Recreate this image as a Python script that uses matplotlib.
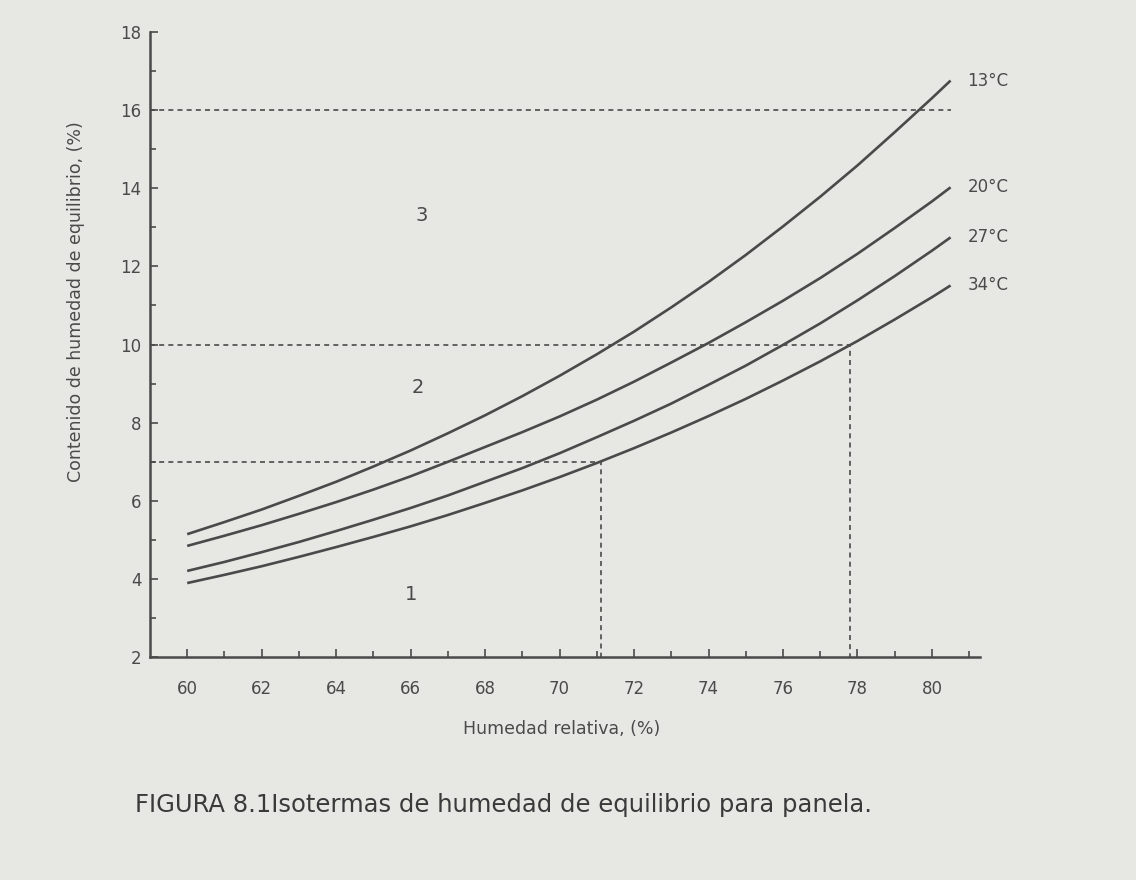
#!/usr/bin/env python3
# -*- coding: utf-8 -*-
"""Isotermas de humedad de equilibrio para panela (figura 8.1)."""
import matplotlib
matplotlib.use("Agg")
import matplotlib.pyplot as plt

# humedad relativa (%) y contenido de humedad de equilibrio (%) por isoterma
hr = [60, 61, 62, 63, 64, 65, 66, 67, 68, 69, 70,
      71, 72, 73, 74, 75, 76, 77, 78, 79, 80, 80.5]
h_13 = [5.15, 5.46, 5.78, 6.13, 6.49, 6.88, 7.29, 7.73, 8.19, 8.68, 9.20,
        9.75, 10.33, 10.95, 11.60, 12.29, 13.02, 13.78, 14.58, 15.43, 16.3, 16.75]
h_20 = [4.85, 5.11, 5.38, 5.67, 5.97, 6.29, 6.63, 7.0, 7.38, 7.76, 8.16,
        8.59, 9.05, 9.54, 10.04, 10.57, 11.12, 11.7, 12.32, 12.98, 13.66, 14.02]
h_27 = [4.21, 4.44, 4.69, 4.95, 5.23, 5.52, 5.82, 6.14, 6.49, 6.84, 7.22,
        7.63, 8.05, 8.49, 8.97, 9.46, 9.99, 10.54, 11.13, 11.75, 12.40, 12.74]
h_34 = [3.9, 4.11, 4.33, 4.57, 4.82, 5.08, 5.35, 5.64, 5.95, 6.27, 6.61,
        6.97, 7.35, 7.75, 8.17, 8.61, 9.08, 9.57, 10.09, 10.64, 11.21, 11.51]
series = [("13°C", h_13), ("20°C", h_20), ("27°C", h_27), ("34°C", h_34)]

# limites de zona (lineas punteadas)
lim_16, hr_16 = 16, 80.5
lim_10, hr_10 = 10, 77.8
lim_7, hr_7 = 7, 71.1
zonas = [("3", 66.3, 13.3), ("2", 66.2, 8.9), ("1", 66.0, 3.6)]

ink = "#4a4a4a"
paper = "#e7e7e4"
plt.rcParams["font.family"] = ["DejaVu Sans"]

fig = plt.figure(figsize=(11.36, 8.8), dpi=100, facecolor=paper)
ax = fig.add_axes([0.132, 0.253, 0.731, 0.711])
ax.set_facecolor(paper)

for name, vals in series:
    ax.plot(hr, vals, color=ink, lw=1.9, solid_capstyle="butt")
    ax.text(hr[-1] + 0.45, vals[-1], name, color=ink, fontsize=12,
            va="center", ha="left", clip_on=False)

dash = dict(color=ink, lw=1.2, ls=(0, (3, 2.5)))
ax.plot([59, hr_16], [lim_16, lim_16], **dash)
ax.plot([59, hr_10, hr_10], [lim_10, lim_10, 2], **dash)
ax.plot([59, hr_7, hr_7], [lim_7, lim_7, 2], **dash)

for z, x, y in zonas:
    ax.text(x, y, z, color=ink, fontsize=14, ha="center", va="center")

ax.set_xlim(59, 81.3)
ax.set_ylim(2, 18)
ax.set_xticks(range(60, 81, 2))
ax.set_xticks(range(60, 82), minor=True)
ax.set_yticks(range(2, 19, 2))
ax.set_yticks(range(2, 19), minor=True)
for s in ("top", "right"):
    ax.spines[s].set_visible(False)
for s in ("left", "bottom"):
    ax.spines[s].set_color(ink)
    ax.spines[s].set_linewidth(1.8)
ax.tick_params(which="both", direction="in", colors=ink, width=1.2)
ax.tick_params(which="major", length=6, labelsize=12)
ax.tick_params(which="minor", length=4)
ax.tick_params(axis="x", which="major", pad=16)
ax.tick_params(axis="y", which="major", pad=6)

ax.set_xlabel("Humedad relativa, (%)", fontsize=12.5, color=ink)
ax.xaxis.set_label_coords(0.496, -0.1)
ax.set_ylabel("Contenido de humedad de equilibrio, (%)", fontsize=12.5, color=ink)
ax.yaxis.set_label_coords(-0.078, 0.568)

fig.text(0.119, 0.085, "FIGURA 8.1Isotermas de humedad de equilibrio para panela.",
         fontsize=17.5, color="#3a3a3a", ha="left", va="center")

fig.savefig("out.png", dpi=100, facecolor=paper)
plt.close(fig)
